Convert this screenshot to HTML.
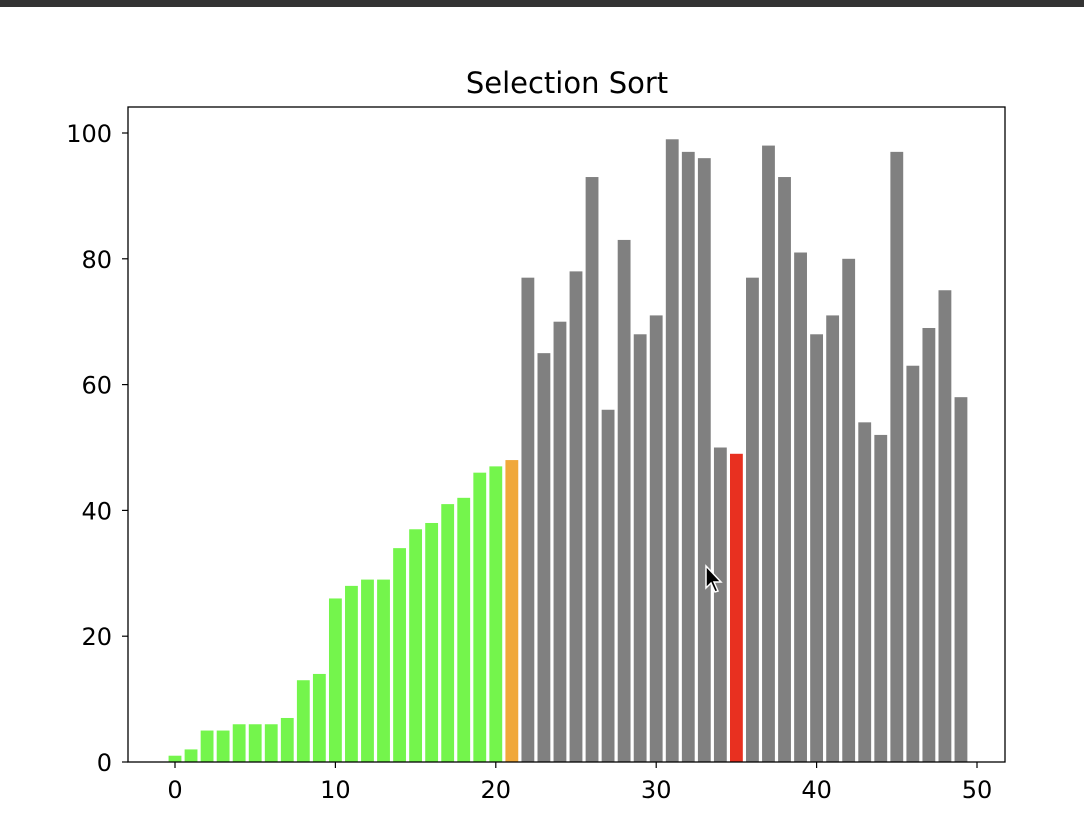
<!DOCTYPE html>
<html><head><meta charset="utf-8"><style>
body{margin:0;background:#fff;width:1084px;height:826px;overflow:hidden;font-family:"DejaVu Sans","Liberation Sans",sans-serif}
</style></head><body>
<div style="position:absolute;left:0;top:0;width:1084px;height:7px;background:#333"></div>
<svg id="chart" width="1084" height="826" style="position:absolute;left:0;top:0;font-family:'DejaVu Sans',sans-serif"></svg>
<script>
const indices = Array.from({length:50},(_,i)=>i);
const values = [1,2,5,5,6,6,6,7,13,14,26,28,29,29,34,37,38,41,42,46,47,48,77,65,70,78,93,56,83,68,71,99,97,96,50,49,77,98,93,81,68,71,80,54,52,97,63,69,75,58];
const sortedCount = 21;
const currentIndex = 21;
const minIndex = 35;
const xTicks = [0,10,20,30,40,50];
const yTicks = [0,20,40,60,80,100];
const NS="http://www.w3.org/2000/svg";
const svg=document.getElementById('chart');
const L=128,R=1005,T=107,B=762;
const x=v=>175+v*16.04;
const y=v=>762-v*6.29;
function mk(tag,attrs){const e=document.createElementNS(NS,tag);for(const k in attrs)e.setAttribute(k,attrs[k]);svg.appendChild(e);return e;}
indices.forEach((i)=>{
  const v=values[i];
  let c='#808080';
  if(i<sortedCount)c='#74f54c';
  if(i===currentIndex)c='#f0a83a';
  if(i===minIndex)c='#e83020';
  const r=mk('rect',{x:x(i-0.4),y:y(v),width:0.8*16.04,height:y(0)-y(v),fill:c});
  
  
});
const frame=mk('rect',{x:L,y:T,width:R-L,height:B-T,fill:'none',stroke:'#000','stroke-width':1.3});


xTicks.forEach(t=>{
  const l=mk('line',{x1:x(t),x2:x(t),y1:B,y2:B+6,stroke:'#000','stroke-width':1.2});
  
  
  const tx=mk('text',{x:x(t),y:B+36,'text-anchor':'middle','font-size':24,fill:'#000'});
  tx.textContent=t;
  
  
});
yTicks.forEach(t=>{
  const l=mk('line',{x1:L-6,x2:L,y1:y(t),y2:y(t),stroke:'#000','stroke-width':1.2});
  
  
  const tx=mk('text',{x:L-16,y:y(t)+9,'text-anchor':'end','font-size':24,fill:'#000'});
  tx.textContent=t;
  
  
});
const title=mk('text',{x:567,y:93,'text-anchor':'middle','font-size':29,fill:'#000'});
title.textContent='Selection Sort';


const cur=mk('path',{d:'M706 566 L706 588 L711 583 L715 592 L718 591 L714 582 L721 582 Z',fill:'#000',stroke:'#fff','stroke-width':1.5});


</script>
</body></html>
